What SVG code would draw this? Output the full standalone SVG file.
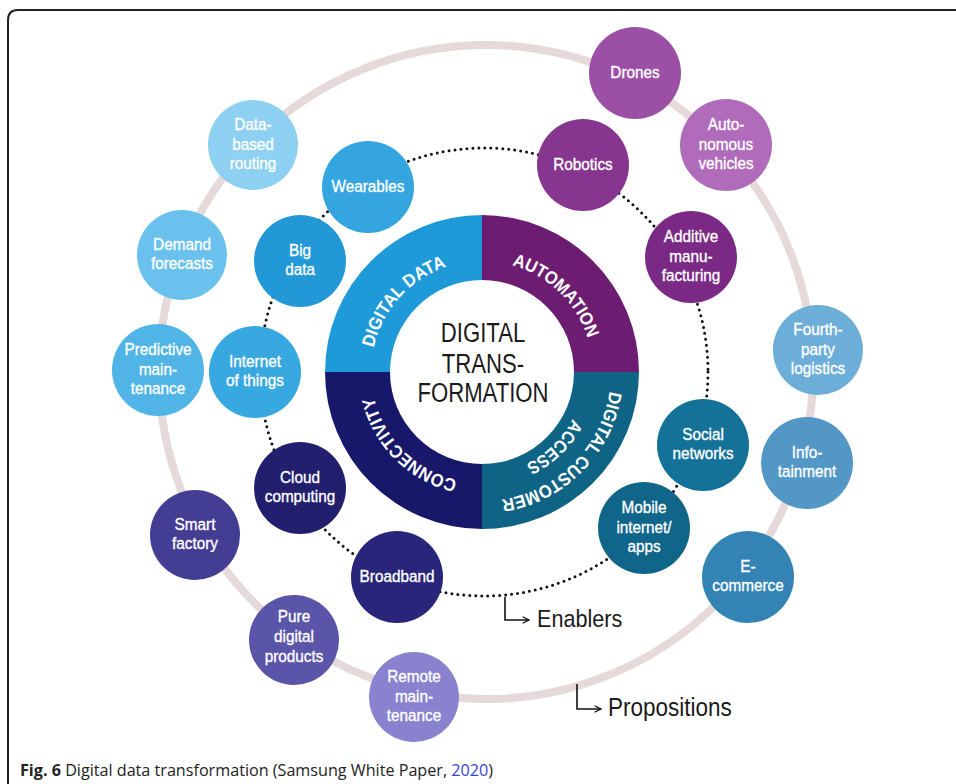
<svg xmlns="http://www.w3.org/2000/svg" width="956" height="784" viewBox="0 0 956 784">
<defs>
<style>
.lbl{fill:#fff;stroke:#fff;stroke-width:0.35px;font-family:'Liberation Sans',Arial,sans-serif;font-size:17px;text-anchor:middle}
.rt{fill:#fff;font-family:'Liberation Sans',Arial,sans-serif;font-weight:bold;font-size:18px}
.dots{fill:none;stroke:#111;stroke-width:3;stroke-dasharray:0 6;stroke-linecap:round}
.hook{fill:none;stroke:#111;stroke-width:1.6;marker-end:url(#arr)}
.big{fill:#1a1a1a;font-family:'Liberation Sans',Arial,sans-serif}
</style>
<marker id="arr" viewBox="0 0 10 10" refX="9" refY="5" markerWidth="8" markerHeight="8" orient="auto" markerUnits="userSpaceOnUse">
<path d="M1 1 L9 5 L1 9" fill="none" stroke="#111" stroke-width="1.6"/>
</marker>
<path id="pDD" d="M376.4 406.3 A111 111 0 0 1 505.1 263.4"/>
<path id="pAU" d="M451.4 265.3 A111 111 0 0 1 589.7 398.9"/>
<path id="pCO" d="M510.7 479.2 A111 111 0 0 1 374.8 343.3"/>
<path id="pDC" d="M606.6 338.6 A129 129 0 0 1 448.6 496.6"/>
<path id="pAC" d="M581.0 347.3 A102 102 0 0 1 453.9 470.0"/>
</defs>
<rect width="956" height="784" fill="#fff"/>
<path d="M8 784 V20 Q8 10 18 10 H956" fill="none" stroke="#222" stroke-width="2"/>

<g id="connectors">
<circle cx="486" cy="372" r="327" fill="none" stroke="#e6d9d9" stroke-width="8"/>
<circle class="dots" cx="484" cy="372" r="224"/>
<path class="hook" d="M505 597 V620 H529"/>
<path class="hook" d="M577 684 V709 H601"/>
</g>

<g id="core">
<path d="M325 372 A157 157 0 0 1 482 215 L482 280 A92 92 0 0 0 390 372 Z" fill="#1f9ad8"/>
<path d="M482 215 A157 157 0 0 1 639 372 L574 372 A92 92 0 0 0 482 280 Z" fill="#6d1d71"/>
<path d="M639 372 A157 157 0 0 1 482 529 L482 464 A92 92 0 0 0 574 372 Z" fill="#0f6486"/>
<path d="M482 529 A157 157 0 0 1 325 372 L390 372 A92 92 0 0 0 482 464 Z" fill="#17186a"/>
<text class="rt" text-anchor="middle"><textPath href="#pDD" startOffset="50%" textLength="114" lengthAdjust="spacingAndGlyphs">DIGITAL DATA</textPath></text>
<text class="rt" text-anchor="middle"><textPath href="#pAU" startOffset="50%" textLength="110" lengthAdjust="spacingAndGlyphs">AUTOMATION</textPath></text>
<text class="rt" text-anchor="middle"><textPath href="#pCO" startOffset="50%" textLength="124" lengthAdjust="spacingAndGlyphs">CONNECTIVITY</textPath></text>
<text class="rt" text-anchor="middle"><textPath href="#pDC" startOffset="50%" textLength="164" lengthAdjust="spacingAndGlyphs">DIGITAL CUSTOMER</textPath></text>
<text class="rt" text-anchor="middle"><textPath href="#pAC" startOffset="50%" textLength="66" lengthAdjust="spacingAndGlyphs">ACCESS</textPath></text>
<text class="big" font-size="28" text-anchor="middle" transform="translate(483 0) scale(0.79 1)"><tspan x="0" y="342">DIGITAL</tspan><tspan x="0" y="373">TRANS-</tspan><tspan x="0" y="402">FORMATION</tspan></text>
</g>

<g id="n-wearables"><circle cx="368" cy="187" r="46" fill="#34a5df"/><text class="lbl" transform="translate(368 187) scale(0.9 1)"><tspan x="0" y="5">Wearables</tspan></text></g>
<g id="n-bigdata"><circle cx="300" cy="261" r="46" fill="#2398d6"/><text class="lbl" transform="translate(300 261) scale(0.9 1)"><tspan x="0" y="-5">Big</tspan><tspan x="0" y="14">data</tspan></text></g>
<g id="n-iot"><circle cx="255" cy="372" r="46" fill="#38a8e1"/><text class="lbl" transform="translate(255 372) scale(0.9 1)"><tspan x="0" y="-5">Internet</tspan><tspan x="0" y="14">of things</tspan></text></g>
<g id="n-cloud"><circle cx="300" cy="488" r="46" fill="#221f6f"/><text class="lbl" transform="translate(300 488) scale(0.9 1)"><tspan x="0" y="-5">Cloud</tspan><tspan x="0" y="14">computing</tspan></text></g>
<g id="n-broadband"><circle cx="397" cy="577" r="46" fill="#29257a"/><text class="lbl" transform="translate(397 577) scale(0.9 1)"><tspan x="0" y="5">Broadband</tspan></text></g>
<g id="n-mobile"><circle cx="644" cy="528" r="46" fill="#10668a"/><text class="lbl" transform="translate(644 528) scale(0.9 1)"><tspan x="0" y="-15">Mobile</tspan><tspan x="0" y="5">internet/</tspan><tspan x="0" y="24">apps</tspan></text></g>
<g id="n-social"><circle cx="703" cy="445" r="46" fill="#147298"/><text class="lbl" transform="translate(703 445) scale(0.9 1)"><tspan x="0" y="-5">Social</tspan><tspan x="0" y="14">networks</tspan></text></g>
<g id="n-additive"><circle cx="691" cy="257" r="46" fill="#7a2984"/><text class="lbl" transform="translate(691 257) scale(0.9 1)"><tspan x="0" y="-15">Additive</tspan><tspan x="0" y="5">manu-</tspan><tspan x="0" y="24">facturing</tspan></text></g>
<g id="n-robotics"><circle cx="583" cy="165" r="46" fill="#873690"/><text class="lbl" transform="translate(583 165) scale(0.9 1)"><tspan x="0" y="5">Robotics</tspan></text></g>

<g id="n-routing"><circle cx="253" cy="145" r="45" fill="#8dd0f2"/><text class="lbl" transform="translate(253 145) scale(0.9 1)"><tspan x="0" y="-15">Data-</tspan><tspan x="0" y="5">based</tspan><tspan x="0" y="24">routing</tspan></text></g>
<g id="n-demand"><circle cx="182" cy="255" r="45" fill="#6ac1ed"/><text class="lbl" transform="translate(182 255) scale(0.9 1)"><tspan x="0" y="-5">Demand</tspan><tspan x="0" y="14">forecasts</tspan></text></g>
<g id="n-predictive"><circle cx="158" cy="370" r="46" fill="#50b4e7"/><text class="lbl" transform="translate(158 370) scale(0.9 1)"><tspan x="0" y="-15">Predictive</tspan><tspan x="0" y="5">main-</tspan><tspan x="0" y="24">tenance</tspan></text></g>
<g id="n-smart"><circle cx="195" cy="535" r="45" fill="#433d93"/><text class="lbl" transform="translate(195 535) scale(0.9 1)"><tspan x="0" y="-5">Smart</tspan><tspan x="0" y="14">factory</tspan></text></g>
<g id="n-pure"><circle cx="294" cy="640" r="45" fill="#5b55a9"/><text class="lbl" transform="translate(294 640) scale(0.9 1)"><tspan x="0" y="-18">Pure</tspan><tspan x="0" y="2">digital</tspan><tspan x="0" y="22">products</tspan></text></g>
<g id="n-remote"><circle cx="414" cy="697" r="45" fill="#8983cf"/><text class="lbl" transform="translate(414 697) scale(0.9 1)"><tspan x="0" y="-15">Remote</tspan><tspan x="0" y="5">main-</tspan><tspan x="0" y="24">tenance</tspan></text></g>
<g id="n-ecommerce"><circle cx="748" cy="577" r="46" fill="#3384b4"/><text class="lbl" transform="translate(748 577) scale(0.9 1)"><tspan x="0" y="-5">E-</tspan><tspan x="0" y="14">commerce</tspan></text></g>
<g id="n-info"><circle cx="807" cy="463" r="46" fill="#5297c5"/><text class="lbl" transform="translate(807 463) scale(0.9 1)"><tspan x="0" y="-5">Info-</tspan><tspan x="0" y="14">tainment</tspan></text></g>
<g id="n-fourth"><circle cx="818" cy="350" r="45" fill="#6daed8"/><text class="lbl" transform="translate(818 350) scale(0.9 1)"><tspan x="0" y="-15">Fourth-</tspan><tspan x="0" y="5">party</tspan><tspan x="0" y="24">logistics</tspan></text></g>
<g id="n-auto"><circle cx="726" cy="145" r="46" fill="#b06bbb"/><text class="lbl" transform="translate(726 145) scale(0.9 1)"><tspan x="0" y="-15">Auto-</tspan><tspan x="0" y="5">nomous</tspan><tspan x="0" y="24">vehicles</tspan></text></g>
<g id="n-drones"><circle cx="635" cy="73" r="46" fill="#9c50a5"/><text class="lbl" transform="translate(635 73) scale(0.9 1)"><tspan x="0" y="5">Drones</tspan></text></g>

<g id="labels">
<text class="big" font-size="24" transform="translate(537 627) scale(0.9 1)">Enablers</text>
<text class="big" font-size="25" transform="translate(608 716) scale(0.9 1)">Propositions</text>
</g>

<text x="20" y="776" font-family="'Open Sans','Liberation Sans',sans-serif" font-size="16" fill="#222" textLength="473" lengthAdjust="spacingAndGlyphs"><tspan font-weight="bold">Fig. 6</tspan> Digital data transformation (Samsung White Paper, <tspan fill="#3344dd">2020</tspan>)</text>
</svg>
